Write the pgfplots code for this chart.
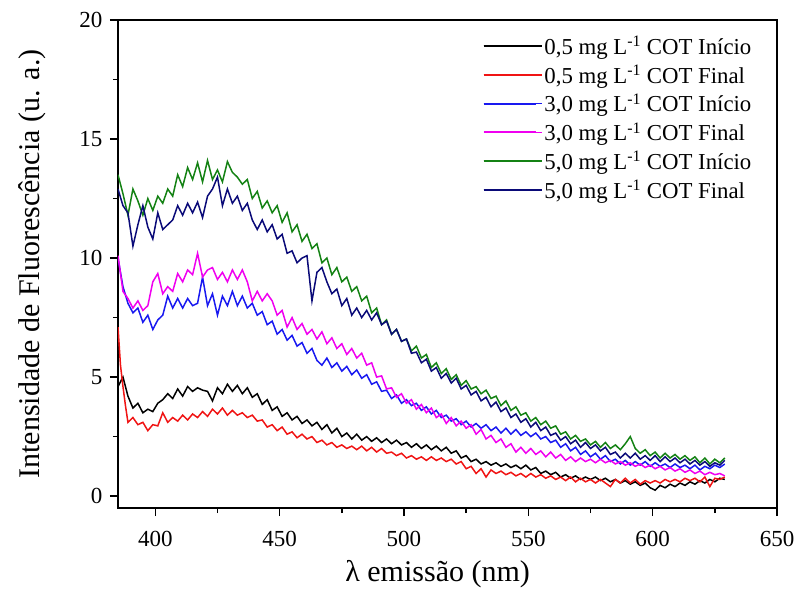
\documentclass[border=0pt]{standalone}
\usepackage{fontspec}
\setmainfont{Liberation Serif}
\usepackage{pgfplots}
\pgfplotsset{compat=1.18}
\definecolor{cred}{RGB}{240,20,20}
\definecolor{cblue}{RGB}{25,25,240}
\definecolor{cmag}{RGB}{240,0,240}
\definecolor{cgreen}{RGB}{20,130,20}
\definecolor{cnavy}{RGB}{10,10,120}
\begin{document}
\begin{tikzpicture}
\begin{axis}[
  width=659pt, height=488pt, scale only axis,
  xmin=385, xmax=650, ymin=-0.5, ymax=20,
  xtick={400,450,...,650}, ytick={0,5,...,20},
  minor x tick num=1, minor y tick num=1,
  tick pos=left, tick align=outside,
  major tick length=8pt, minor tick length=5pt,
  axis line style={line width=1.6pt},
  every tick/.style={line width=1.4pt, black},
  /pgf/number format/assume math mode=true,
  tick label style={font=\fontsize{23}{27}\selectfont},
  xticklabel style={yshift=-12pt},
  yticklabel style={xshift=-4pt},
  xlabel={λ emissão (nm)},
  ylabel={Intensidade de Fluorescência (u. a.)},
  label style={font=\fontsize{30}{34}\selectfont},
  xlabel style={at={(axis description cs:0.485,-0.135)}, anchor=center},
  ylabel style={at={(axis description cs:-0.13,0.5)}, anchor=center},
  legend style={draw=none, fill=none, at={(0.969,0.975)}, anchor=north east,
    font=\fontsize{22.8}{27}\selectfont, row sep=5.2pt, cells={anchor=west}},
  legend image code/.code={\draw[#1, line width=2pt] (0pt,0pt) -- (52pt,0pt); \path (0pt,0pt) -- (58pt,0pt);},
  every axis plot/.append style={line width=1.5pt},
]
\addplot[black] coordinates {(385,4.6)(387,5.0)(389,4.2)(391,3.7)(393,3.9)(395,3.5)(397,3.65)(399,3.55)(401,3.9)(403,4.05)(405,4.3)(407,4.1)(409,4.5)(411,4.2)(413,4.6)(415,4.4)(417,4.55)(419,4.45)(421,4.4)(423,4.0)(425,4.55)(427,4.3)(429,4.7)(431,4.4)(433,4.65)(435,4.3)(437,4.55)(439,4.15)(441,4.3)(443,3.85)(445,4.05)(447,3.6)(449,3.75)(451,3.35)(453,3.5)(455,3.2)(457,3.35)(459,3.05)(461,3.2)(463,2.95)(465,3.1)(467,2.8)(469,3.0)(471,2.65)(473,2.85)(475,2.5)(477,2.65)(479,2.4)(481,2.6)(483,2.35)(485,2.5)(487,2.3)(489,2.45)(491,2.25)(493,2.4)(495,2.2)(497,2.35)(499,2.15)(501,2.25)(503,2.05)(505,2.2)(507,2.0)(509,2.15)(511,1.95)(513,2.1)(515,1.9)(517,2.05)(519,1.8)(521,1.9)(523,1.6)(525,1.7)(527,1.45)(529,1.55)(531,1.35)(533,1.45)(535,1.3)(537,1.4)(539,1.25)(541,1.35)(543,1.2)(545,1.3)(547,1.15)(549,1.3)(551,1.1)(553,1.2)(555,0.95)(557,1.05)(559,0.9)(561,1.0)(563,0.8)(565,0.9)(567,0.75)(569,0.85)(571,0.7)(573,0.8)(575,0.7)(577,0.8)(579,0.65)(581,0.75)(583,0.6)(585,0.7)(587,0.55)(589,0.65)(591,0.5)(593,0.6)(595,0.45)(597,0.55)(599,0.35)(601,0.25)(603,0.45)(605,0.35)(607,0.5)(609,0.4)(611,0.55)(613,0.45)(615,0.6)(617,0.5)(619,0.65)(621,0.55)(623,0.7)(625,0.6)(627,0.75)(629,0.7)};
\addlegendentry{0,5 mg L\textsuperscript{-1} COT Início}
\addplot[cred] coordinates {(385,7.1)(386,5.5)(387,4.6)(388,3.8)(389,3.1)(391,3.3)(393,3.0)(395,3.1)(397,2.75)(399,3.0)(401,2.95)(403,3.5)(405,3.1)(407,3.3)(409,3.15)(411,3.4)(413,3.2)(415,3.45)(417,3.3)(419,3.55)(421,3.35)(423,3.65)(425,3.45)(427,3.7)(429,3.4)(431,3.6)(433,3.4)(435,3.5)(437,3.3)(439,3.4)(441,3.15)(443,3.2)(445,2.9)(447,3.0)(449,2.75)(451,2.9)(453,2.6)(455,2.7)(457,2.45)(459,2.6)(461,2.4)(463,2.5)(465,2.25)(467,2.35)(469,2.15)(471,2.25)(473,2.05)(475,2.15)(477,2.0)(479,2.1)(481,1.95)(483,2.1)(485,1.9)(487,2.05)(489,1.85)(491,2.0)(493,1.8)(495,1.85)(497,1.7)(499,1.8)(501,1.6)(503,1.7)(505,1.55)(507,1.65)(509,1.5)(511,1.65)(513,1.5)(515,1.6)(517,1.45)(519,1.55)(521,1.35)(523,1.45)(525,1.15)(527,1.25)(529,0.95)(531,1.15)(533,0.8)(535,1.1)(537,0.95)(539,1.05)(541,0.9)(543,1.0)(545,0.85)(547,0.95)(549,0.8)(551,0.95)(553,0.8)(555,0.9)(557,0.75)(559,0.85)(561,0.7)(563,0.8)(565,0.65)(567,0.8)(569,0.6)(571,0.75)(573,0.6)(575,0.7)(577,0.55)(579,0.7)(581,0.55)(583,0.4)(585,0.7)(587,0.55)(589,0.75)(591,0.55)(593,0.7)(595,0.5)(597,0.65)(599,0.55)(601,0.65)(603,0.55)(605,0.7)(607,0.6)(609,0.7)(611,0.6)(613,0.75)(615,0.65)(617,0.75)(619,0.6)(621,0.8)(623,0.4)(625,0.75)(627,0.7)(629,0.8)};
\addlegendentry{0,5 mg L\textsuperscript{-1} COT Final}
\addplot[cblue] coordinates {(385,10.0)(387,8.8)(389,8.1)(391,7.7)(393,7.9)(395,7.3)(397,7.6)(399,7.0)(401,7.4)(403,7.6)(405,8.4)(407,7.9)(409,8.3)(411,7.9)(413,8.3)(415,8.0)(417,8.1)(419,9.2)(421,8.0)(423,8.5)(425,7.6)(427,8.4)(429,8.0)(431,8.6)(433,8.0)(435,8.4)(437,7.9)(439,8.1)(441,7.6)(443,7.75)(445,7.2)(447,7.35)(449,6.8)(451,7.0)(453,6.55)(455,6.75)(457,6.3)(459,6.45)(461,6.0)(463,6.2)(465,5.7)(467,5.5)(469,5.8)(471,5.4)(473,5.6)(475,5.25)(477,5.45)(479,5.1)(481,5.3)(483,4.95)(485,5.1)(487,4.7)(489,4.8)(491,4.4)(493,4.45)(495,4.1)(497,4.25)(499,3.9)(501,4.05)(503,3.8)(505,3.9)(507,3.6)(509,3.75)(511,3.45)(513,3.6)(515,3.3)(517,3.4)(519,3.15)(521,3.25)(523,3.0)(525,3.15)(527,2.9)(529,3.05)(531,2.85)(533,3.0)(535,2.75)(537,2.9)(539,2.65)(541,2.85)(543,2.6)(545,2.8)(547,2.55)(549,2.7)(551,2.5)(553,2.65)(555,2.4)(557,2.5)(559,2.25)(561,2.35)(563,2.05)(565,2.2)(567,1.9)(569,2.05)(571,1.75)(573,1.9)(575,1.65)(577,1.8)(579,1.55)(581,1.7)(583,1.45)(585,1.55)(587,1.35)(589,1.5)(591,1.3)(593,1.45)(595,1.3)(597,1.45)(599,1.25)(601,1.4)(603,1.25)(605,1.35)(607,1.2)(609,1.35)(611,1.2)(613,1.3)(615,1.15)(617,1.3)(619,1.1)(621,1.25)(623,1.15)(625,1.3)(627,1.2)(629,1.35)};
\addlegendentry{3,0 mg L\textsuperscript{-1} COT Início}
\addplot[cmag] coordinates {(385,10.1)(387,8.6)(389,8.3)(391,7.9)(393,8.2)(395,7.8)(397,8.0)(399,9.0)(401,9.35)(403,8.5)(405,8.8)(407,8.6)(409,9.35)(411,9.0)(413,9.5)(415,9.3)(417,10.2)(419,9.2)(421,9.5)(423,9.6)(425,9.1)(427,9.4)(429,9.0)(431,9.5)(433,9.1)(435,9.5)(437,9.0)(439,8.2)(441,8.6)(443,8.2)(445,8.5)(447,8.2)(449,7.6)(451,7.8)(453,7.1)(455,7.5)(457,7.0)(459,7.25)(461,6.8)(463,7.0)(465,6.6)(467,6.9)(469,6.4)(471,6.65)(473,6.2)(475,6.4)(477,5.95)(479,6.2)(481,5.8)(483,6.0)(485,5.5)(487,5.6)(489,5.0)(491,5.05)(493,4.5)(495,4.55)(497,4.15)(499,4.3)(501,3.9)(503,4.05)(505,3.65)(507,3.85)(509,3.5)(511,3.7)(513,3.3)(515,3.45)(517,3.05)(519,3.3)(521,2.95)(523,3.15)(525,2.85)(527,3.0)(529,2.6)(531,2.8)(533,2.4)(535,2.55)(537,2.25)(539,2.4)(541,2.05)(543,2.2)(545,1.85)(547,2.05)(549,1.8)(551,2.0)(553,1.75)(555,1.9)(557,1.65)(559,1.85)(561,1.6)(563,1.75)(565,1.5)(567,1.65)(569,1.45)(571,1.6)(573,1.45)(575,1.55)(577,1.4)(579,1.55)(581,1.4)(583,1.5)(585,1.35)(587,1.45)(589,1.3)(591,1.4)(593,1.25)(595,1.35)(597,1.2)(599,1.3)(601,1.15)(603,1.25)(605,1.1)(607,1.2)(609,1.05)(611,1.15)(613,1.0)(615,1.1)(617,0.95)(619,1.05)(621,0.9)(623,1.0)(625,0.9)(627,0.95)(629,0.85)};
\addlegendentry{3,0 mg L\textsuperscript{-1} COT Final}
\addplot[cgreen] coordinates {(385,13.5)(387,12.7)(389,11.8)(391,12.9)(393,12.4)(395,11.8)(397,12.5)(399,12.0)(401,12.6)(403,12.3)(405,12.9)(407,12.6)(409,13.5)(411,13.0)(413,13.8)(415,13.3)(417,14.0)(419,13.2)(421,14.1)(423,13.3)(425,13.7)(427,13.2)(429,14.05)(431,13.6)(433,13.4)(435,13.1)(437,13.3)(439,12.5)(441,12.8)(443,12.1)(445,12.4)(447,11.9)(449,12.2)(451,11.5)(453,11.9)(455,11.1)(457,11.4)(459,10.7)(461,11.0)(463,10.4)(465,10.6)(467,9.8)(469,10.0)(471,9.3)(473,9.6)(475,9.0)(477,9.2)(479,8.6)(481,8.8)(483,8.2)(485,8.4)(487,7.7)(489,7.9)(491,7.2)(493,7.4)(495,6.8)(497,7.0)(499,6.5)(501,6.6)(503,6.1)(505,6.3)(507,5.8)(509,5.95)(511,5.4)(513,5.6)(515,5.15)(517,5.35)(519,4.9)(521,5.1)(523,4.65)(525,4.85)(527,4.5)(529,4.6)(531,4.3)(533,4.45)(535,4.1)(537,4.2)(539,3.8)(541,4.0)(543,3.6)(545,3.75)(547,3.4)(549,3.5)(551,3.15)(553,3.3)(555,3.0)(557,3.15)(559,2.85)(561,2.95)(563,2.6)(565,2.7)(567,2.4)(569,2.55)(571,2.3)(573,2.4)(575,2.15)(577,2.3)(579,2.05)(581,2.25)(583,2.0)(585,2.15)(587,1.95)(589,2.2)(591,2.5)(593,2.0)(595,1.8)(597,1.95)(599,1.7)(601,1.85)(603,1.6)(605,1.8)(607,1.6)(609,1.75)(611,1.55)(613,1.7)(615,1.5)(617,1.65)(619,1.4)(621,1.6)(623,1.35)(625,1.55)(627,1.4)(629,1.6)};
\addlegendentry{5,0 mg L\textsuperscript{-1} COT Início}
\addplot[cnavy] coordinates {(385,12.9)(387,12.2)(389,11.9)(391,10.5)(393,11.4)(395,12.2)(397,11.3)(399,10.8)(401,11.9)(403,11.2)(405,11.4)(407,11.6)(409,12.2)(411,11.8)(413,12.3)(415,11.9)(417,12.35)(419,11.7)(421,12.6)(423,12.9)(425,13.4)(427,12.2)(429,12.9)(431,12.3)(433,12.6)(435,12.0)(437,12.3)(439,11.6)(441,11.2)(443,11.6)(445,11.1)(447,11.4)(449,10.8)(451,11.0)(453,10.2)(455,10.3)(457,9.8)(459,10.0)(461,10.1)(463,8.2)(465,9.4)(467,9.6)(469,9.0)(471,8.5)(473,8.7)(475,8.0)(477,8.3)(479,7.6)(481,7.9)(483,7.5)(485,7.8)(487,7.4)(489,7.7)(491,7.2)(493,7.35)(495,6.8)(497,7.0)(499,6.5)(501,6.6)(503,6.0)(505,6.05)(507,5.6)(509,5.75)(511,5.25)(513,5.4)(515,4.95)(517,5.15)(519,4.75)(521,4.95)(523,4.5)(525,4.65)(527,4.25)(529,4.4)(531,4.0)(533,4.15)(535,3.75)(537,3.95)(539,3.55)(541,3.7)(543,3.3)(545,3.45)(547,3.1)(549,3.25)(551,2.9)(553,3.1)(555,2.75)(557,2.9)(559,2.55)(561,2.65)(563,2.35)(565,2.5)(567,2.2)(569,2.35)(571,2.05)(573,2.25)(575,2.0)(577,2.15)(579,1.9)(581,2.05)(583,1.75)(585,1.85)(587,1.6)(589,1.8)(591,1.6)(593,1.8)(595,1.55)(597,1.7)(599,1.5)(601,1.7)(603,1.45)(605,1.65)(607,1.45)(609,1.6)(611,1.4)(613,1.55)(615,1.35)(617,1.5)(619,1.3)(621,1.45)(623,1.25)(625,1.4)(627,1.3)(629,1.5)};
\addlegendentry{5,0 mg L\textsuperscript{-1} COT Final}
\end{axis}
\pgfresetboundingbox
\useasboundingbox ([xshift=-118pt,yshift=-84pt]current axis.south west) rectangle ([xshift=20pt,yshift=20pt]current axis.north east);
\end{tikzpicture}
\end{document}
